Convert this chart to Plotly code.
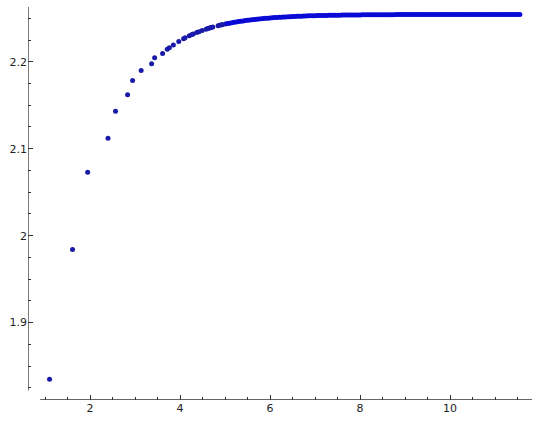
import plotly.graph_objects as go

# Discrete early points (x, y)
x_pts = [1.099, 1.609, 1.946, 2.398, 2.565, 2.833, 2.944, 3.135, 3.367, 3.434,
         3.611, 3.714, 3.761, 3.850, 3.970, 4.078, 4.111, 4.205, 4.263, 4.290,
         4.369, 4.419, 4.489, 4.575, 4.615, 4.635, 4.673, 4.691, 4.727, 4.844,
         4.875, 4.920, 4.934, 5.004]
y_pts = [1.835, 1.984, 2.073, 2.112, 2.143, 2.162, 2.1785, 2.190, 2.1977, 2.2046,
         2.2096, 2.2143, 2.2161, 2.2194, 2.2234, 2.2265, 2.2275, 2.2299, 2.2313, 2.2319,
         2.2336, 2.2346, 2.2360, 2.2375, 2.2382, 2.2385, 2.2391, 2.2394, 2.2399, 2.2415,
         2.2419, 2.2425, 2.2426, 2.2434]

# Dense part (appears as a continuous band)
x_dense = [5.05, 5.10, 5.15, 5.20, 5.25, 5.30, 5.35, 5.40, 5.45, 5.50,
           5.55, 5.60, 5.65, 5.70, 5.75, 5.80, 5.85, 5.90, 5.95, 6.00,
           6.05, 6.10, 6.15, 6.20, 6.25, 6.30, 6.35, 6.40, 6.45, 6.50,
           6.55, 6.60, 6.65, 6.70, 6.75, 6.80, 6.85, 6.90, 6.95, 7.00,
           7.05, 7.10, 7.15, 7.20, 7.25, 7.30, 7.35, 7.40, 7.45, 7.50,
           7.55, 7.60, 7.65, 7.70, 7.75, 7.80, 7.85, 7.90, 7.95, 8.00,
           8.05, 8.10, 8.15, 8.20, 8.25, 8.30, 8.35, 8.40, 8.45, 8.50,
           8.55, 8.60, 8.65, 8.70, 8.75, 8.80, 8.85, 8.90, 8.95, 9.00,
           9.05, 9.10, 9.15, 9.20, 9.25, 9.30, 9.35, 9.40, 9.45, 9.50,
           9.55, 9.60, 9.65, 9.70, 9.75, 9.80, 9.85, 9.90, 9.95, 10.00,
           10.05, 10.10, 10.15, 10.20, 10.25, 10.30, 10.35, 10.40, 10.45, 10.50,
           10.55, 10.60, 10.65, 10.70, 10.75, 10.80, 10.85, 10.90, 10.95, 11.00,
           11.05, 11.10, 11.15, 11.20, 11.25, 11.30, 11.35, 11.40, 11.45, 11.50,
           11.55]
y_dense = [2.2439, 2.2444, 2.2449, 2.2454, 2.2458, 2.2463, 2.2467, 2.2470, 2.2474, 2.2478,
           2.2481, 2.2484, 2.2487, 2.2490, 2.2492, 2.2495, 2.2497, 2.2500, 2.2502, 2.2504,
           2.2506, 2.2508, 2.2510, 2.2511, 2.2513, 2.2515, 2.2516, 2.2518, 2.2519, 2.2520,
           2.2521, 2.2523, 2.2524, 2.2525, 2.2526, 2.2527, 2.2528, 2.2528, 2.2529, 2.2530,
           2.2531, 2.2531, 2.2532, 2.2533, 2.2533, 2.2534, 2.2534, 2.2535, 2.2535, 2.2536,
           2.2536, 2.2537, 2.2537, 2.2538, 2.2538, 2.2538, 2.2539, 2.2539, 2.2539, 2.2539,
           2.2540, 2.2540, 2.2540, 2.2540, 2.2541, 2.2541, 2.2541, 2.2541, 2.2541, 2.2542,
           2.2542, 2.2542, 2.2542, 2.2542, 2.2542, 2.2543, 2.2543, 2.2543, 2.2543, 2.2543,
           2.2543, 2.2543, 2.2543, 2.2544, 2.2544, 2.2544, 2.2544, 2.2544, 2.2544, 2.2544,
           2.2544, 2.2544, 2.2544, 2.2544, 2.2544, 2.2544, 2.2545, 2.2545, 2.2545, 2.2545,
           2.2545, 2.2545, 2.2545, 2.2545, 2.2545, 2.2545, 2.2545, 2.2545, 2.2545, 2.2545,
           2.2545, 2.2545, 2.2545, 2.2545, 2.2545, 2.2545, 2.2545, 2.2545, 2.2545, 2.2545,
           2.2545, 2.2545, 2.2545, 2.2545, 2.2545, 2.2545, 2.2545, 2.2545, 2.2545, 2.2545,
           2.2545]

x_ticks = [2, 4, 6, 8, 10]
y_ticks = [1.9, 2.0, 2.1, 2.2]
y_tick_text = ["1.9", "2", "2.1", "2.2"]

fig = go.Figure()
fig.add_trace(go.Scatter(x=x_pts, y=y_pts, mode="markers",
                         marker=dict(size=5, color="#1a1aa8", line=dict(width=0)),
                         showlegend=False, hoverinfo="skip"))
fig.add_trace(go.Scatter(x=x_dense, y=y_dense, mode="markers",
                         marker=dict(size=5, color="#0a0ad6", line=dict(width=0)),
                         showlegend=False, hoverinfo="skip"))

axis_color = "#333333"
fig.update_layout(
    width=540, height=421,
    margin=dict(l=28, r=8, t=7, b=21, autoexpand=False),
    paper_bgcolor="white", plot_bgcolor="white",
    font=dict(family="DejaVu Sans", size=11, color="#222222"),
    hovermode=False,
    xaxis=dict(range=[0.62, 11.82], showgrid=False, zeroline=False, showline=False,
               automargin=False,
               tickvals=x_ticks, ticks="inside", ticklen=5, tickwidth=1, tickcolor=axis_color,
               minor=dict(dtick=0.5, tick0=0, ticks="inside", ticklen=3, tickcolor=axis_color, showgrid=False)),
    yaxis=dict(range=[1.811, 2.263], showgrid=False, zeroline=False, showline=False,
               automargin=False,
               tickvals=y_ticks, ticktext=y_tick_text, ticks="inside", ticklen=5, tickwidth=1,
               tickcolor=axis_color,
               minor=dict(dtick=0.025, tick0=1.8, ticks="inside", ticklen=3, tickcolor=axis_color, showgrid=False)),
    shapes=[
        dict(type="line", xref="x", yref="y", x0=0.89, x1=11.82, y0=1.811, y1=1.811,
             line=dict(color=axis_color, width=1.3)),
        dict(type="line", xref="x", yref="y", x0=0.62, x1=0.62, y0=1.822, y1=2.263,
             line=dict(color=axis_color, width=1.3)),
    ],
)

fig.write_html("out.html",
               config={"displayModeBar": False, "staticPlot": True},
               post_script="document.body.style.margin='0';document.body.style.overflow='hidden';")
